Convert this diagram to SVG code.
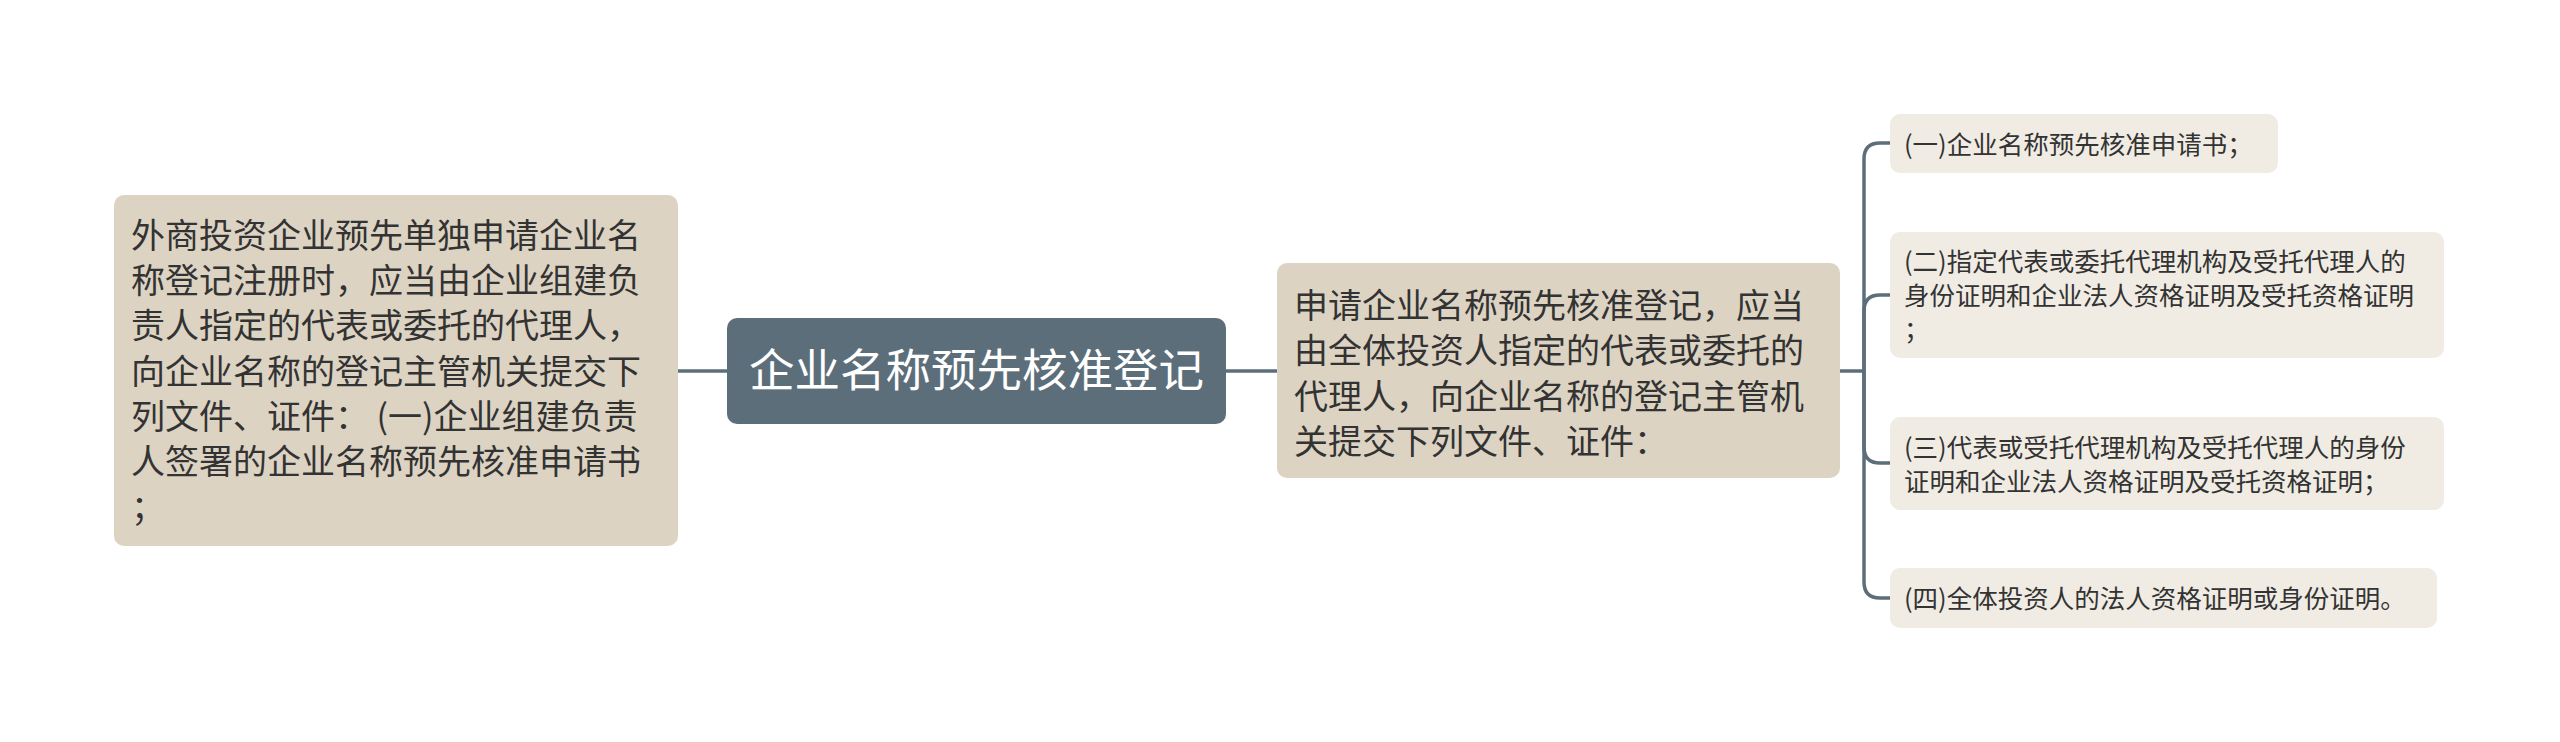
<svg xmlns="http://www.w3.org/2000/svg" width="2560" height="742" viewBox="0 0 2560 742">
<style>
.main{fill:#ddd3c3}
.child{fill:#f0ece4}
.central{fill:#5d6e7b}
.t{font-family:"Noto Sans CJK SC","Noto Sans CJK JP",sans-serif;fill:#333333}
.l{font-size:34px}
.s{font-size:25.5px}
.c{font-size:45.5px;fill:#ffffff}
.conn{fill:none;stroke:#5d6e7b;stroke-width:3.5}
</style>
<rect width="2560" height="742" fill="#ffffff"/>
<g id="connectors">
<path class="conn" d="M678 371H727"/>
<path class="conn" d="M1226 371H1277"/>
<path class="conn" d="M1840 371H1864"/>
<path class="conn" d="M1864 371V159Q1864 143 1880 143H1890"/>
<path class="conn" d="M1864 371V311Q1864 295 1880 295H1890"/>
<path class="conn" d="M1864 371V447Q1864 463 1880 463H1890"/>
<path class="conn" d="M1864 371V582Q1864 598 1880 598H1890"/>
</g>
<g id="node-left">
<rect class="main" x="114" y="195" width="564" height="351" rx="10"/>
<text class="t l" x="131" y="247.5">外商投资企业预先单独申请企业名</text>
<text class="t l" x="131" y="293">称登记注册时，应当由企业组建负</text>
<text class="t l" x="131" y="338">责人指定的代表或委托的代理人，</text>
<text class="t l" x="131" y="383.5">向企业名称的登记主管机关提交下</text>
<text class="t l" x="131" y="429">列文件、证件： (一)企业组建负责</text>
<text class="t l" x="131" y="474">人签署的企业名称预先核准申请书</text>
<text class="t l" x="131" y="519.5">；</text>
</g>
<g id="node-center">
<rect class="central" x="727" y="318" width="499" height="106" rx="10"/>
<text class="t c" x="976.5" y="387" text-anchor="middle">企业名称预先核准登记</text>
</g>
<g id="node-right">
<rect class="main" x="1277" y="263" width="563" height="215" rx="10"/>
<text class="t l" x="1294" y="317.5">申请企业名称预先核准登记，应当</text>
<text class="t l" x="1294" y="362.5">由全体投资人指定的代表或委托的</text>
<text class="t l" x="1294" y="408.5">代理人，向企业名称的登记主管机</text>
<text class="t l" x="1294" y="453.5">关提交下列文件、证件：</text>
</g>
<g id="child-1">
<rect class="child" x="1890" y="114" width="388" height="59" rx="10"/>
<text class="t s" x="1904" y="153.5">(一)企业名称预先核准申请书；</text>
</g>
<g id="child-2">
<rect class="child" x="1890" y="232" width="554" height="126" rx="10"/>
<text class="t s" x="1904" y="270.5">(二)指定代表或委托代理机构及受托代理人的</text>
<text class="t s" x="1904" y="304.5">身份证明和企业法人资格证明及受托资格证明</text>
<text class="t s" x="1904" y="338.5">；</text>
</g>
<g id="child-3">
<rect class="child" x="1890" y="417" width="554" height="93" rx="10"/>
<text class="t s" x="1904" y="456.5">(三)代表或受托代理机构及受托代理人的身份</text>
<text class="t s" x="1904" y="490.5">证明和企业法人资格证明及受托资格证明；</text>
</g>
<g id="child-4">
<rect class="child" x="1890" y="568" width="547" height="60" rx="10"/>
<text class="t s" x="1904" y="607.5">(四)全体投资人的法人资格证明或身份证明。</text>
</g>
</svg>
